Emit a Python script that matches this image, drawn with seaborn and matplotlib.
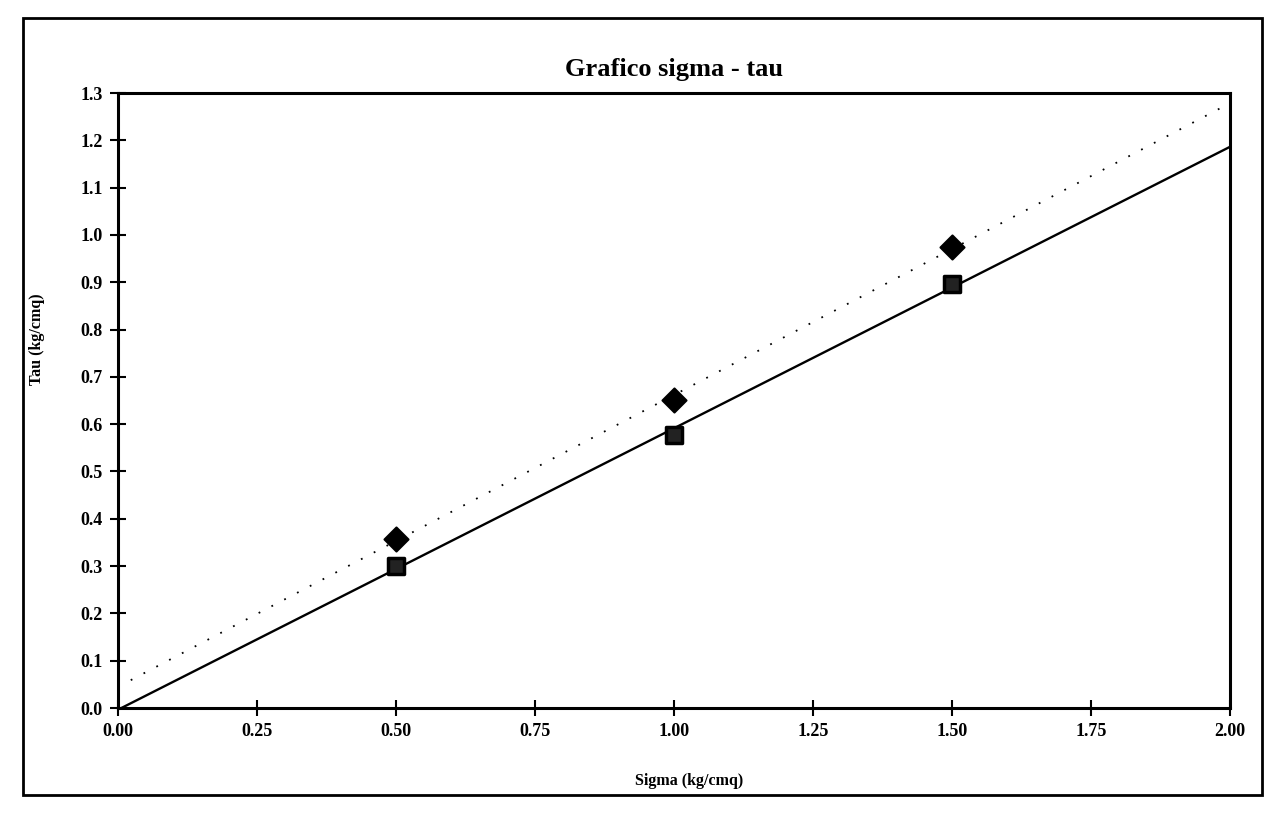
import matplotlib
matplotlib.use("Agg")
import matplotlib.pyplot as plt
import seaborn as sns
import numpy as np
import pandas as pd
from matplotlib.patches import Rectangle
from matplotlib.ticker import FormatStrFormatter

# ---- data ----
sigma = [0.5, 1.0, 1.5]
tau_peak = [0.358, 0.652, 0.975]      # diamonds (dotted trend)
tau_resid = [0.301, 0.577, 0.896]     # squares (solid trend)
x_ticks = [0.0, 0.25, 0.5, 0.75, 1.0, 1.25, 1.5, 1.75, 2.0]
y_ticks = [0.0, 0.1, 0.2, 0.3, 0.4, 0.5, 0.6, 0.7, 0.8, 0.9, 1.0, 1.1, 1.2, 1.3]
title = "Grafico sigma - tau"
xlabel = "Sigma (kg/cmq)"
ylabel = "Tau (kg/cmq)"

df = pd.DataFrame({"sigma": sigma, "peak": tau_peak, "resid": tau_resid})

sns.set_style("ticks")
plt.rcParams["font.family"] = ["Liberation Serif", "DejaVu Serif"]
plt.rcParams.update({"text.color": "black", "axes.labelcolor": "black",
                     "xtick.color": "black", "ytick.color": "black"})

fig = plt.figure(figsize=(12.67, 8.14), dpi=100)
ax = fig.add_axes([0.0931, 0.1302, 0.8777, 0.7555])
ax.set_xlim(0, 2.0)
ax.set_ylim(0, 1.3)

# dotted trend line + diamonds
sns.regplot(data=df, x="sigma", y="peak", ax=ax, ci=None, truncate=False,
            marker="D",
            scatter_kws=dict(s=150, color="black", edgecolors="black",
                             linewidths=1.5, alpha=1, zorder=5),
            line_kws=dict(color="black", lw=1.3, linestyle=(0, (1, 7))))
# solid trend line + squares
sns.regplot(data=df, x="sigma", y="resid", ax=ax, ci=None, truncate=False,
            marker="s",
            scatter_kws=dict(s=120, facecolors="#222222", edgecolors="black",
                             linewidths=2.5, alpha=1, zorder=5),
            line_kws=dict(color="black", lw=1.7))

ax.set_xlim(0, 2.0)
ax.set_ylim(0, 1.3)
ax.set_xticks(x_ticks)
ax.set_yticks(y_ticks)
ax.xaxis.set_major_formatter(FormatStrFormatter("%.2f"))
ax.yaxis.set_major_formatter(FormatStrFormatter("%.1f"))
ax.tick_params(direction="inout", length=12, width=1.5, labelsize=13)
ax.tick_params(axis="x", pad=5)
ax.tick_params(axis="y", pad=5)
for lab in ax.get_xticklabels() + ax.get_yticklabels():
    lab.set_fontweight("bold")
for s in ax.spines.values():
    s.set_visible(True)
    s.set_linewidth(2.2)
    s.set_color("black")

ax.set_title(title, fontsize=19, fontweight="bold", pad=12)
ax.set_xlabel(xlabel, fontsize=11.5, fontweight="bold")
ax.set_ylabel(ylabel, fontsize=11.5, fontweight="bold")
ax.xaxis.set_label_coords(0.514, -0.105)
ax.yaxis.set_label_coords(-0.066, 0.60)

# outer chart frame
fig.patches.append(Rectangle((23 / 1267, 1 - 795 / 814), (1262 - 23) / 1267,
                             (795 - 18) / 814, transform=fig.transFigure,
                             fill=False, edgecolor="black", linewidth=2))

fig.savefig("out.png", dpi=100, facecolor="white")
